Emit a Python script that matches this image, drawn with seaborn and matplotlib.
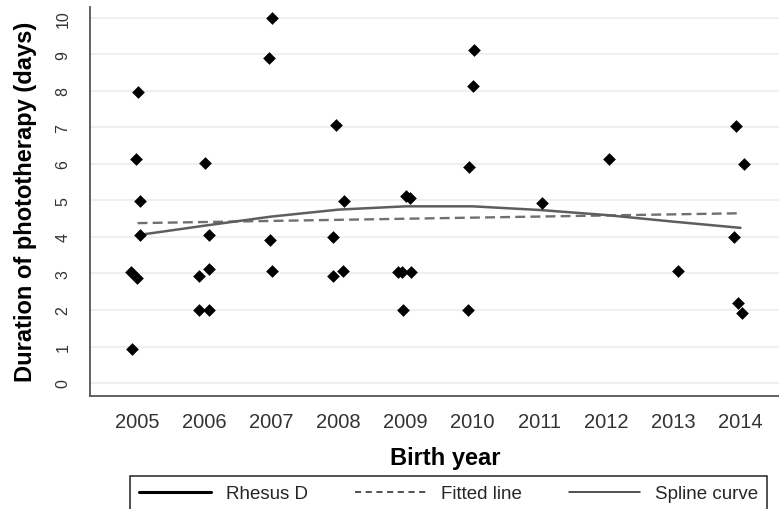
import numpy as np
import pandas as pd
import seaborn as sns
import matplotlib.pyplot as plt
from matplotlib.lines import Line2D

# observed points (years carry the small horizontal jitter seen in the chart)
birth_year = [2004.90, 2004.99, 2004.92, 2005.04, 2005.01, 2004.97, 2005.04,
              2005.92, 2006.07, 2006.07, 2005.92, 2006.07, 2006.01,
              2007.01, 2006.96, 2006.98, 2007.01,
              2007.96, 2008.08, 2007.91, 2007.92, 2008.06,
              2009.01, 2009.06, 2008.89, 2008.94, 2009.08, 2008.96,
              2010.02, 2010.01, 2009.95, 2009.93,
              2011.04,
              2012.04,
              2013.06,
              2013.93, 2014.06, 2013.91, 2013.97, 2014.03]
duration = [3.05, 2.87, 0.93, 4.05, 7.96, 6.14, 4.98,
            2.92, 3.12, 4.05, 2.0, 2.0, 6.03,
            10.0, 8.9, 3.91, 3.06,
            7.07, 4.99, 4.01, 2.92, 3.08,
            5.12, 5.06, 3.03, 3.03, 3.03, 2.0,
            9.12, 8.14, 5.93, 2.0,
            4.93,
            6.14,
            3.06,
            7.03, 6.01, 4.01, 2.18, 1.91]

fit_years = [2005, 2014]
fit_vals = [4.38, 4.65]

spline_years = [2005, 2006, 2007, 2008, 2009, 2010, 2011, 2012, 2013, 2014]
spline_vals = [4.05, 4.31, 4.56, 4.75, 4.84, 4.84, 4.74, 4.60, 4.42, 4.25]

year_ticks = list(range(2005, 2015))
y_ticks = list(range(0, 11))

sns.set_style("white")
plt.rcParams['font.family'] = ['Liberation Sans', 'DejaVu Sans']

fig = plt.figure(figsize=(7.79, 5.10), dpi=100)
ax = fig.add_axes([90 / 779, 1 - 396.5 / 510, 1 - 90 / 779, (396.5 - 8) / 510])

for v in y_ticks:
    ax.axhline(v, color='#ececec', lw=1.2, zorder=0)

sns.scatterplot(x=birth_year, y=duration, marker='D', color='black', s=42,
                edgecolor='black', linewidth=0, ax=ax, zorder=3)
sns.lineplot(x=fit_years, y=fit_vals, ax=ax, color='#707070', lw=1.7,
             linestyle=(0, (4.2, 2.2)), zorder=2)
sns.lineplot(x=spline_years, y=spline_vals, ax=ax, color='#5e5e5e', lw=1.8,
             zorder=2)

ax.set_xlim(2004.29, 2014.575)
ax.set_ylim(-0.342, 10.30)
ax.set_xticks(year_ticks)
ax.set_yticks(y_ticks)
ax.set_xticklabels([str(y) for y in year_ticks], fontsize=14.5, color='#333333')
ax.set_yticklabels([str(v) for v in y_ticks], fontsize=11.5, color='#333333',
                   rotation=90, va='center')

for side in ['top', 'right']:
    ax.spines[side].set_visible(False)
for side in ['left', 'bottom']:
    ax.spines[side].set_color('#555555')
    ax.spines[side].set_linewidth(1.3)
ax.tick_params(axis='both', direction='out', length=5, width=1.1, color='#555555')
ax.tick_params(axis='x', pad=7)
ax.tick_params(axis='y', pad=9)

ax.set_xlabel("Birth year", fontsize=17, fontweight='bold', color='black')
ax.set_ylabel("Duration of phototherapy (days)", fontsize=17, fontweight='bold',
              color='black')
ax.xaxis.set_label_coords((445 - 90) / 689, -(447 - 396.5) / 388.5)
ax.yaxis.set_label_coords(-(90 - 37) / 689, 0.5)

handles = [
    Line2D([], [], color='black', lw=2.2),
    Line2D([], [], color='#222222', lw=1.1, linestyle=(0, (4, 3))),
    Line2D([], [], color='#222222', lw=1.1),
]
labels = ["Rhesus D", "Fitted line", "Spline curve"]
leg = fig.legend(handles, labels, loc='upper left', ncol=3,
                 bbox_to_anchor=(130 / 779, 1 - 477 / 510),
                 fontsize=13.5, frameon=True, fancybox=False, framealpha=1,
                 edgecolor='#222222', handlelength=3.8, handletextpad=0.8,
                 columnspacing=2.5, borderpad=0.5, borderaxespad=0)
leg.get_frame().set_linewidth(1.1)

fig.savefig("out.png", dpi=100)
plt.close(fig)
